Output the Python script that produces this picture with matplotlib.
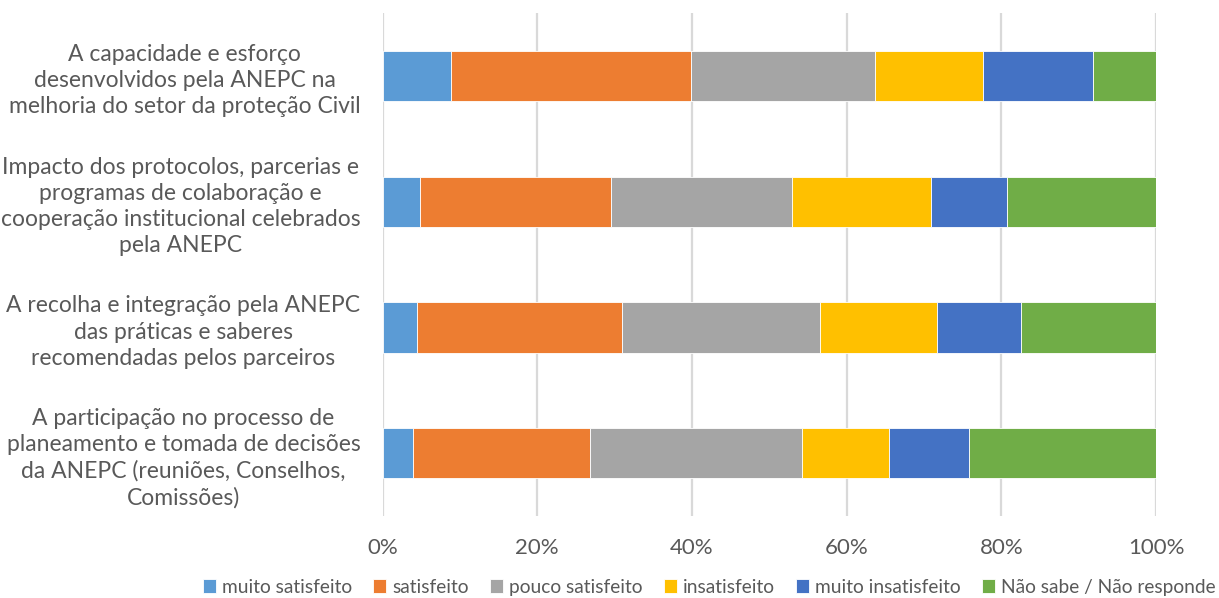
import matplotlib
matplotlib.use("Agg")
import matplotlib.pyplot as plt
import numpy as np

categories = [
    "A capacidade e esforço\ndesenvolvidos pela ANEPC na\nmelhoria do setor da proteção Civil",
    "Impacto dos protocolos, parcerias e\nprogramas de colaboração e\ncooperação institucional celebrados\npela ANEPC",
    "A recolha e integração pela ANEPC\ndas práticas e saberes\nrecomendadas pelos parceiros",
    "A participação no processo de\nplaneamento e tomada de decisões\nda ANEPC (reuniões, Conselhos,\nComissões)",
]
series_names = ["muito satisfeito", "satisfeito", "pouco satisfeito", "insatisfeito",
                "muito insatisfeito", "Não sabe / Não responde"]
muito_satisfeito = [8.9, 4.8, 4.5, 4.0]
satisfeito = [31.0, 24.7, 26.4, 22.8]
pouco_satisfeito = [23.8, 23.4, 25.6, 27.4]
insatisfeito = [13.9, 18.0, 15.2, 11.3]
muito_insatisfeito = [14.3, 9.8, 10.8, 10.3]
nao_sabe = [8.1, 19.3, 17.5, 24.2]
xticks = [0, 20, 40, 60, 80, 100]
xtick_labels = ["0%", "20%", "40%", "60%", "80%", "100%"]

colors = ["#5B9BD5", "#ED7D31", "#A5A5A5", "#FFC000", "#4472C4", "#70AD47"]

plt.rcParams['font.family'] = ['Lato', 'DejaVu Sans']

fig = plt.figure(figsize=(12.19, 5.98), dpi=100)
ax = fig.add_axes([0.3138, 0.137, 0.9483 - 0.3138, 0.978 - 0.137])

data = [muito_satisfeito, satisfeito, pouco_satisfeito, insatisfeito, muito_insatisfeito, nao_sabe]
y = np.arange(len(categories))
left = np.zeros(len(categories))
for name, vals, c in zip(series_names, data, colors):
    vals = np.array(vals)
    ax.barh(y, vals, left=left, height=0.4, color=c, edgecolor="white", linewidth=0.6,
            label=name, zorder=3)
    left += vals

ax.set_xlim(0, 100)
ax.set_ylim(3.5, -0.5)
ax.set_xticks(xticks)
ax.set_xticklabels(xtick_labels, fontsize=16, color="#595959")
ax.set_yticks(y)
ax.set_yticklabels(categories, fontsize=16.5, color="#595959", multialignment="center",
                   linespacing=1.3)
ax.tick_params(axis="both", length=0)
ax.tick_params(axis="y", pad=16)
ax.tick_params(axis="x", pad=16)
ax.grid(axis="x", color="#D9D9D9", linewidth=1.6, zorder=0)
for s in ax.spines.values():
    s.set_visible(False)

leg = fig.legend(loc="lower center", bbox_to_anchor=(0.5817, -0.025), ncol=6, frameon=False,
                 fontsize=13.8, handlelength=0.7, handleheight=0.7, handletextpad=0.3,
                 columnspacing=1.1)
for t in leg.get_texts():
    t.set_color("#595959")

fig.savefig("out.png", dpi=100)
